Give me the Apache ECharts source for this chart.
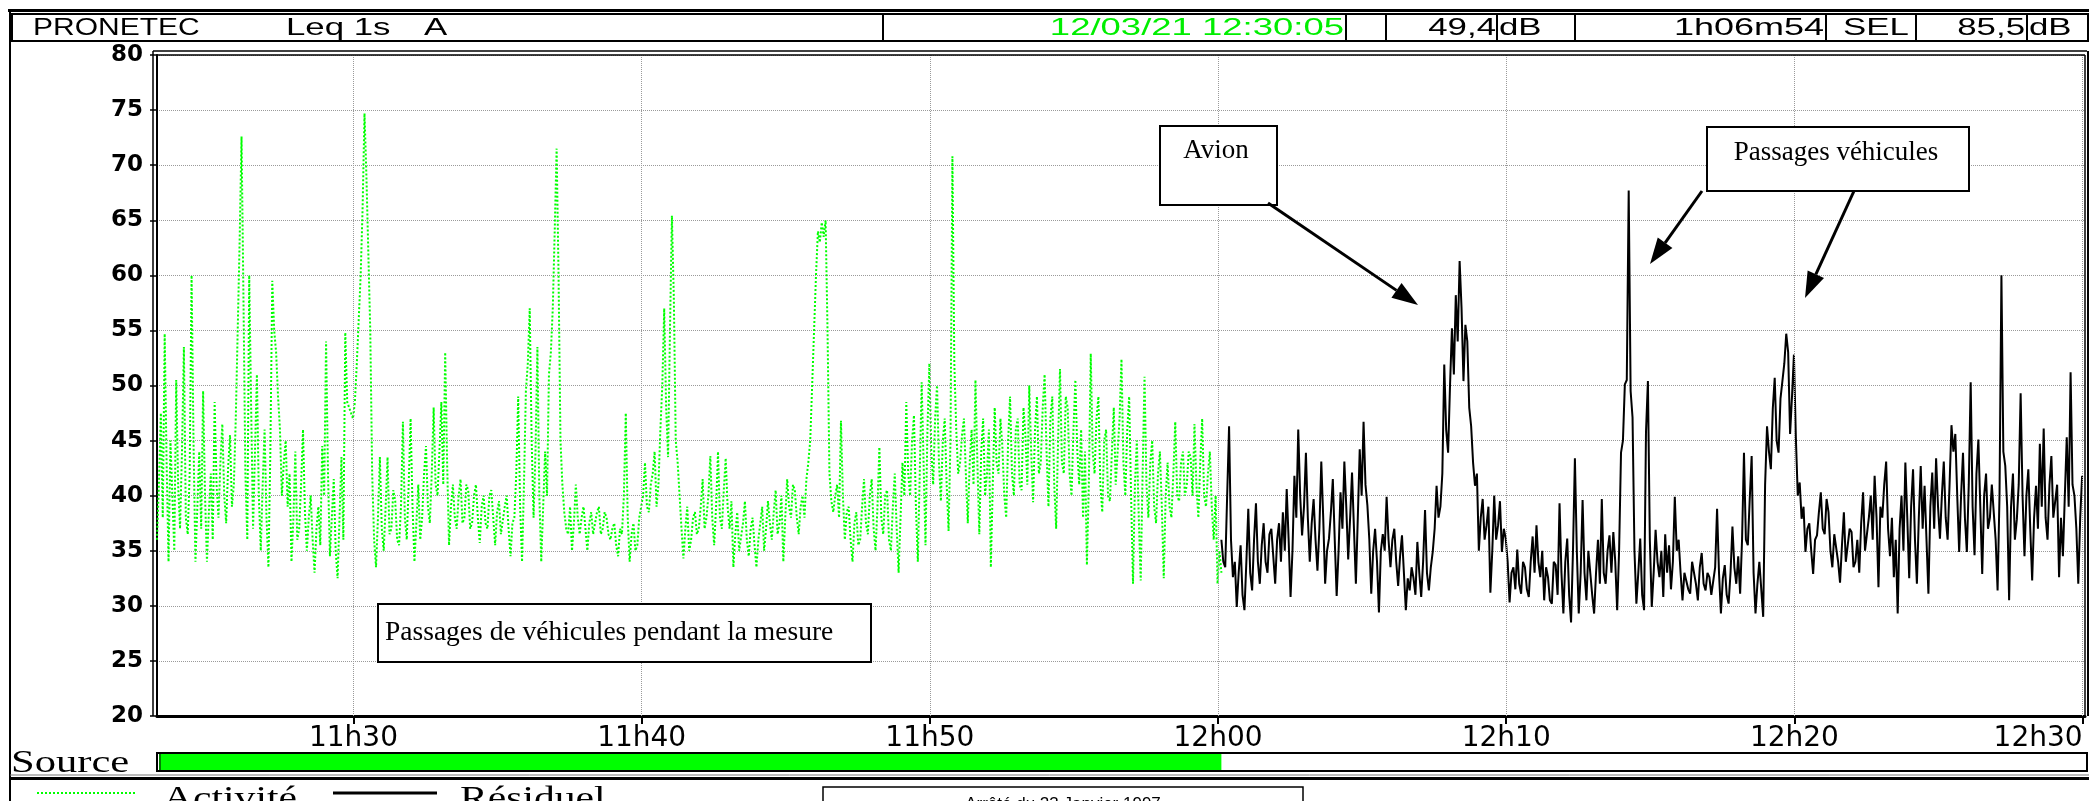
<!DOCTYPE html>
<html><head><meta charset="utf-8">
<script src="https://cdn.jsdelivr.net/npm/echarts@6/dist/echarts.min.js"></script>
<style>html,body{margin:0;padding:0;background:#fff;overflow:hidden}#c{width:2089px;height:801px}</style>
</head><body><div id="c"></div>
<script>
// ---------- DATA ----------
// time in seconds since midnight; one sample every 4 s
const startActivite = 40991;   // 11:23:11
const startResiduel = 43207;   // 12:00:07
const stepSeconds = 4;
const axisStart = 40991;       // 11:23:11
const axisEnd = 45005;         // 12:30:05
const timeTicks = [41400, 42000, 42600, 43200, 43800, 44400, 45000];
const yMin = 20, yMax = 80, yStep = 5;

const activite = [
36,41,47.5,38,54.7,43,34,45,40,35,50.5,41,37,44,53.5,38,36.5,42,60,45,
34,39,44,37,49.5,40,34,38.5,42,36,48.5,41,38,43,46.5,40,37.5,42.5,45.5,39,
41,47,55,63,72.6,58,42,36,60,48,37,44,51,40,35,41,46,38,33.5,44,
59.5,55,53,49,46,40,43,45,39,42,34,38,44,36,37,41,46,38.5,35,38,
40,36,33,37,39,35.5,44.5,40,54,42,34.5,38,41.5,35,32.5,38,43.5,36,54.8,48.5,
48,47.5,47,48.5,52,56,60,66,74.7,69,62,55,42,36,33.5,38,43.5,37,35,39,
43.5,36.5,37,40.5,39.5,36,35.5,39,46.7,38,36,41,47,39,34,37.5,41,36,38,42,
44.5,39,37.5,42,48,41,40,44,48.5,41,53,43,35.5,39,41,38,37,40,41.5,37.5,
38,41,40.5,37,37.5,40,41,38,35.7,39,40,37.5,37,40,40.5,38,35.5,38.5,39.5,36.5,
36.5,39,40,37,34.5,37.5,38,42,49,39,34,41,49.5,52,57,45,38,44,53.5,40,
34,39,44,40,51,53,57,64,71.5,60,45,41,38.5,37,36.5,39,35,37.5,41,38,
36.5,38,39,37,35,37.5,38.5,36.5,36.5,38.5,39,36.5,37,38.5,38,36.5,36,37,37.5,35.5,
34.5,37,36.5,40,47.5,38,34,36.5,37.5,35,35.5,38,38,40,43,39,38.5,41,42,44,
39,41,46,50,57,48,43.5,55,65.4,58,45,43,40,37,34.3,37,39,35,36,38,
38.5,36.5,37,39,41.5,37,38,40,43.6,38,35.5,39,44,38,37,40.5,43.4,39,37,39.5,
33.5,36.5,38.5,35,35,37.5,39.5,36,34.5,37,38,35.5,33.5,36,37.5,39,35,37,39.5,37.5,
36,38.5,40.5,36.5,37.5,40,34,38,41.5,39,38,41,40.5,38,36.5,39,40,38,41.5,43,
45,50,55,60,64,63,64.8,63.5,65,55,42,39.5,38.5,40,41,38,46.8,40,36,38.5,
39,36,34,37.5,38.5,35.5,36,39,41.5,37.5,36.5,40,41.5,37,35,39,44.4,38,36.5,40,
40.5,36,35,39,42,37,33,38,43,40,48.5,42,40,45,47.3,39,34,42,50.3,43,
35.5,46,52,44,41,47,50,43,39.5,45,47,41,36.8,45,70.8,52,46,42,43,45.5,
47,42,37.5,43,46,41,50.5,43,36.5,44,47,40,42,46,33.5,41,48,43,42,47,
44.5,40,38,45,49,42,40,46,47,41,40.5,48,45.5,41,50,44,39.4,46,49,42,
43,48,51,44,39,47,49,41,37,45,51.5,43,42,49,48,42,40,46,50.5,44,
41,46,38,44,33.7,41,52.9,44,42,47,49,41,38.5,45,46,40,39.5,44,48,41,
44,47,52.4,43,40,46,49,40,32,41,45,38,32.3,42,50.8,41,38,43,45,39,
37.5,42,44,39,32.5,40,43,39,38,42,46.7,40,39.5,43,44,40,41,44,43.5,40,
46.5,41,38,43,47,40,39,42,44,39,36,40,32,35,33
];

const residuel = [
36,34,33.5,40,46.3,36,32.6,34,29.9,33,35.5,31,29.6,34,38.8,33,31.4,36,39.3,34,
32,35.5,37.5,34,33,36.5,37,34.5,32,36,37.5,34,38.5,35,40.6,36,30.8,35,41.8,38,
46,40,36.4,39,43.9,38,34,37.5,39.7,36,33.2,37,43.1,38,32,35,36.1,38.5,41.5,36,
30.9,35,40.3,37,43.1,39,34.2,38,42.1,37,32,38,44.2,40,46.7,41,39.1,36,31.1,35,
37,34,29.4,35,36.5,35,39.9,36,33.5,36,37,34,31.8,34.5,36.4,33,29.6,32.5,31.4,33.5,
32.5,31,35.8,33,30.8,34,38.7,33,31.4,33.5,34.9,37,40.9,38,39,42,51.9,46,43.9,50,
55.2,51,58.2,54,61.3,57,50.4,55.5,54,48,46.3,43,40.9,42,35,38,39.7,36,37.3,39,
31.2,35,40,36,37.3,39.5,34.9,37,36.1,34,30.3,33,33.5,31.5,35.1,32,31.1,34,33.5,31.5,
30.8,34,36.3,33,37.3,34,32.6,35,30.5,33.5,32.6,30.5,30.2,34,33.7,31,39.3,33,29.3,34,
36.1,31,28.5,35,43.4,35,29.3,33,39.6,33,30.5,35,34.9,31,29.3,33,36,32,39.7,33,
32,35,36.4,33,36.7,34,29.6,35,43.9,45,50.1,50.5,67.7,49.5,47.1,35,30.2,33,36.1,31,
29.6,45.8,50.4,36,29.9,33,36.9,34,32.6,35,30.8,36.5,33,35.5,31.5,34,39.9,35,36,33,
30.5,33,33,31.5,31.1,34,34,32,30.5,33.5,34.8,32,31.4,33,32.6,31,31,33.5,38.8,33,
29.3,32.5,33.7,31,30.2,33,37.2,33.5,32,34.5,31.1,36,43.9,36,35.5,39.7,43.6,33,29.3,32,
34,31.5,29,41,46.3,44,42.4,47.9,50.7,45,43.9,48.8,50.4,52,54.7,53,45.6,49,52.8,45.3,
40,41.2,37.9,39,34.9,37,37.5,35,32.9,36,36.4,38.5,40.3,37,36.5,39.7,38.5,35,33.5,36.5,
36.5,34,32.1,35.5,38.5,34,34,37,36.7,33.5,34,36,33,37.5,40.3,35,35,38,40,36,
41.8,38,31.7,39,38,41,43.1,37,34.5,38,32.6,36,29.3,37,40,35,43,38,32.5,39,
42.4,36,32,38,42.7,37,40.9,36,31.1,39,42.1,37,43.4,39,36.1,40,43.1,38,36,41,
46.4,44,45.6,40,34.9,40,43.9,38,34.9,41,50.3,39,34.6,42,45.1,39,32.9,40,42,37,
38,41,41,36,31.4,40,60,44,42.7,39,30.5,39,42,36,37.8,41,49.3,40,34.5,40,
42.4,37,32.3,38,40.9,37,44.7,39,46.1,38,36,41,43.6,38,38,41,32.6,38,34.5,40,
45.3,39,51.2,41,40,37,32,38,41.8
];

// header texts
const headerTitle = ['PRONETEC', 'Leq 1s', 'A'];
const headerDate = '12/03/21 12:30:05';
const headerLeq = ['49,4', 'dB'];
const headerDuration = '1h06m54';
const headerSel = ['SEL', '85,5', 'dB'];
const seriesNames = ['Activité', 'Résiduel'];
const sourceLabel = 'Source';
const noteTexts = ['Avion', 'Passages véhicules', 'Passages de véhicules pendant la mesure', 'Arrêté du 23 Janvier 1997'];

// ---------- CHART ----------
const GREEN = '#00ff00';
const pad = n => (n < 10 ? '0' : '') + n;
const fmtTime = v => Math.floor(v / 3600) + 'h' + pad(Math.floor((v % 3600) / 60));

const chart = echarts.init(document.getElementById('c'), null, {renderer: 'canvas'});
const grid = {left: 157, top: 55, width: 1928, height: 661};

chart.setOption({
  animation: false,
  backgroundColor: '#fff',
  grid: grid,
  xAxis: {
    type: 'value', min: axisStart, max: axisEnd,
    axisLine: {show: true, onZero: false, lineStyle: {color: '#000', width: 3}},
    axisTick: {show: true, customValues: timeTicks, length: 8, lineStyle: {color: '#000', width: 2}},
    axisLabel: {customValues: timeTicks, formatter: fmtTime, color: '#000', fontFamily: 'DejaVu Sans', fontSize: 28, margin: 9, alignMaxLabel: 'right'},
    splitLine: {show: false}
  },
  yAxis: {
    type: 'value', min: yMin, max: yMax, interval: yStep,
    axisLine: {show: true, lineStyle: {color: '#000', width: 2}},
    axisTick: {show: true, length: 7, lineStyle: {color: '#000', width: 1.5}},
    axisLabel: {color: '#000', fontFamily: 'DejaVu Sans', fontWeight: 'bold', fontSize: 23, margin: 14},
    splitLine: {show: true, lineStyle: {color: '#9a9a9a', type: 'dotted', width: 1}}
  },
  series: [
    {
      type: 'line', data: [], z: 1, silent: true,
      markLine: {silent: true, symbol: 'none', animation: false, label: {show: false},
        lineStyle: {color: '#9a9a9a', type: 'dotted', width: 1},
        data: timeTicks.map(t => ({xAxis: t}))}
    },
    {
      name: seriesNames[0], type: 'line', z: 3, showSymbol: false,
      data: activite.map((v, i) => [startActivite + i * stepSeconds, v]),
      lineStyle: {color: GREEN, width: 2, type: [2, 2]}
    },
    {
      name: seriesNames[1], type: 'line', z: 4, showSymbol: false,
      data: residuel.map((v, i) => [startResiduel + i * stepSeconds, v]),
      lineStyle: {color: '#000', width: 2}
    }
  ]
});

// ---------- DECORATION (frame, header, annotations, source, legend) ----------
const SANS = 'Liberation Sans', SERIF = 'Liberation Serif';
const g = [];
function rect(x, y, w, h, fill, stroke, lw) {
  g.push({type: 'rect', shape: {x, y, width: w, height: h}, silent: true,
    style: {fill: fill || 'none', stroke: stroke || null, lineWidth: lw || 0}, z: 10});
}
function line(x1, y1, x2, y2, lw, color, dash) {
  g.push({type: 'line', shape: {x1, y1, x2, y2}, silent: true,
    style: {stroke: color || '#000', lineWidth: lw, lineDash: dash || null}, z: 11});
}
function text(x, y, s, size, family, opt) {
  opt = opt || {};
  g.push({type: 'text', x, y, scaleX: opt.sx || 1, silent: true, z: 12,
    style: {text: s, fontSize: size, fontFamily: family, fill: opt.color || '#000',
      align: opt.align || 'left', verticalAlign: opt.va || 'middle'}});
}
function arrow(x1, y1, x2, y2) {
  const a = Math.atan2(y2 - y1, x2 - x1), AL = 26, W = 9;
  const bx = x2 - AL * Math.cos(a), by = y2 - AL * Math.sin(a);
  line(x1, y1, bx, by, 3);
  g.push({type: 'polygon', silent: true, z: 12, shape: {points: [[x2, y2],
    [bx + W * Math.sin(a), by - W * Math.cos(a)], [bx - W * Math.sin(a), by + W * Math.cos(a)]]},
    style: {fill: '#000'}});
}

// outer frame
rect(8, 9, 2081, 3, '#000');
rect(9, 9, 2, 792, '#000');

// header boxes
const hy = 14, hh = 27, hc = 28;
[[12, 883], [883, 1346], [1346, 1386], [1386, 1497], [1497, 1575], [1575, 1826], [1826, 1916], [1916, 2027], [2027, 2088]]
  .forEach(b => rect(b[0], hy, b[1] - b[0], hh, '#fff', '#000', 2));
const HS = 24, HSX = 1.45;
text(33, hc, headerTitle[0], HS, SANS, {sx: 1.25});
text(286, hc, headerTitle[1], HS, SANS, {sx: HSX});
text(424, hc, headerTitle[2], HS, SANS, {sx: HSX});
text(1344, hc, headerDate, HS, SANS, {sx: 1.52, align: 'right', color: '#00ee00'});
text(1496, hc, headerLeq[0], HS, SANS, {sx: HSX, align: 'right'});
text(1499, hc, headerLeq[1], HS, SANS, {sx: HSX});
text(1824, hc, headerDuration, HS, SANS, {sx: 1.5, align: 'right'});
text(1843, hc, headerSel[0], HS, SANS, {sx: HSX});
text(2025, hc, headerSel[1], HS, SANS, {sx: HSX, align: 'right'});
text(2029, hc, headerSel[2], HS, SANS, {sx: HSX});

// plot frame (double lines)
const L = grid.left, T = grid.top, R = grid.left + grid.width, B = grid.top + grid.height;
line(L - 4, T - 4, L - 4, B, 1.5);
line(L - 4, T - 4, R + 2, T - 4, 1.5);
line(L, T, R, T, 1.5);
line(R, T, R, B, 1.5);
line(R + 3, T - 4, R + 3, B, 2);

// annotations
rect(1160, 126, 117, 79, '#fff', '#000', 2);
text(1216, 151, noteTexts[0], 27, SERIF, {align: 'center'});
arrow(1268, 203, 1418, 305);

rect(1707, 127, 262, 64, '#fff', '#000', 2);
text(1836, 153, noteTexts[1], 27, SERIF, {align: 'center'});
arrow(1702, 191, 1650, 264);
arrow(1854, 191, 1805, 298);

rect(378, 604, 493, 58, '#fff', '#000', 2);
text(385, 633, noteTexts[2], 27.5, SERIF);

// source bar
const xActEnd = chart.convertToPixel({xAxisIndex: 0}, startActivite + (activite.length - 1) * stepSeconds);
text(11, 764, sourceLabel, 32, SERIF, {sx: 1.33});
rect(L, 753, R + 2 - L, 18, '#fff', '#000', 2);
rect(L + 2, 754, xActEnd - L - 2, 16, GREEN);
line(L + 3, 753, L + 3, 771, 1);

// legend row
line(10, 775, 2089, 775, 1, '#777');
line(10, 778.5, 2089, 778.5, 3);
line(37, 793, 137, 793, 2, GREEN, [2, 2]);
text(163, 800, seriesNames[0], 32, SERIF, {sx: 1.3});
line(333, 793, 437, 793, 3);
text(460, 800, seriesNames[1], 32, SERIF, {sx: 1.3});
rect(823, 787, 480, 30, '#fff', '#000', 1.5);
text(1063, 796, noteTexts[3], 17, SANS, {align: 'center', va: 'top'});

chart.setOption({graphic: {elements: g}});
</script>
</body></html>
